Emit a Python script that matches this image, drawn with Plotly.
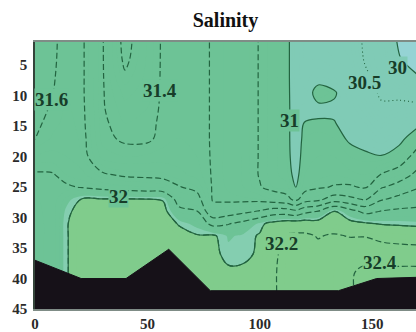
import numpy as np
import plotly.graph_objects as go

# Section geometry: distance along transect and sample depths
dist = [0, 8, 14, 21, 30, 40, 50, 57, 64, 72, 79, 86, 92, 100, 106, 112,
        116, 120, 126, 133, 140, 147, 154, 162, 170]
depth = [0, 4, 7, 9.5, 12, 14.5, 17, 20, 23, 25, 27, 29, 31, 33, 36, 39, 42, 45]

# Salinity profiles, one per distance column (surface -> bottom)
profiles = [
    [31.55, 31.55, 31.56, 31.57, 31.57, 31.58, 31.595, 31.70, 31.82, 31.85, 31.86, 31.87, 31.88, 31.88, 31.88, 31.88, 31.88, 31.88],
    [31.58, 31.585, 31.59, 31.598, 31.61, 31.63, 31.66, 31.72, 31.81, 31.82, 31.82, 31.82, 31.82, 31.82, 31.82, 31.82, 31.82, 31.82],
    [31.64, 31.64, 31.65, 31.65, 31.66, 31.67, 31.68, 31.70, 31.75, 31.82, 31.92, 31.97, 31.99, 31.99, 31.99, 31.99, 31.99, 31.99],
    [31.62, 31.62, 31.62, 31.62, 31.625, 31.63, 31.64, 31.65, 31.72, 31.79, 32.01, 32.06, 32.08, 32.08, 32.08, 32.08, 32.08, 32.08],
    [31.41, 31.41, 31.41, 31.41, 31.41, 31.42, 31.43, 31.48, 31.62, 31.75, 32.01, 32.07, 32.10, 32.10, 32.10, 32.10, 32.10, 32.10],
    [31.15, 31.17, 31.22, 31.28, 31.32, 31.35, 31.38, 31.45, 31.58, 31.72, 32.01, 32.08, 32.10, 32.10, 32.10, 32.10, 32.10, 32.10],
    [31.30, 31.31, 31.32, 31.33, 31.35, 31.36, 31.38, 31.46, 31.57, 31.70, 32.005, 32.07, 32.10, 32.10, 32.10, 32.10, 32.10, 32.10],
    [31.42, 31.42, 31.42, 31.42, 31.42, 31.43, 31.43, 31.47, 31.56, 31.68, 31.99, 32.05, 32.07, 32.08, 32.08, 32.08, 32.08, 32.08],
    [31.45, 31.45, 31.45, 31.45, 31.45, 31.45, 31.45, 31.47, 31.52, 31.61, 31.72, 31.85, 31.99, 32.05, 32.06, 32.06, 32.06, 32.06],
    [31.44, 31.44, 31.44, 31.44, 31.44, 31.44, 31.44, 31.45, 31.48, 31.55, 31.67, 31.81, 31.92, 32.01, 32.05, 32.06, 32.06, 32.06],
    [31.39, 31.39, 31.39, 31.39, 31.39, 31.39, 31.39, 31.39, 31.39, 31.39, 31.39, 31.45, 31.75, 32.02, 32.03, 32.05, 32.05, 32.05],
    [31.33, 31.33, 31.33, 31.33, 31.33, 31.33, 31.33, 31.33, 31.33, 31.34, 31.37, 31.50, 31.79, 31.94, 31.97, 32.02, 32.06, 32.06],
    [31.30, 31.30, 31.30, 31.30, 31.30, 31.30, 31.30, 31.30, 31.30, 31.31, 31.36, 31.55, 31.85, 31.96, 31.975, 32.02, 32.06, 32.06],
    [31.19, 31.19, 31.19, 31.19, 31.19, 31.19, 31.19, 31.19, 31.19, 31.21, 31.35, 31.62, 31.97, 32.01, 32.015, 32.05, 32.08, 32.10],
    [31.12, 31.12, 31.12, 31.12, 31.12, 31.12, 31.12, 31.12, 31.12, 31.15, 31.30, 31.70, 32.05, 32.15, 32.17, 32.18, 32.18, 32.18],
    [31.05, 31.05, 31.05, 31.05, 31.05, 31.05, 31.05, 31.05, 31.07, 31.12, 31.25, 31.70, 32.10, 32.22, 32.25, 32.26, 32.26, 32.26],
    [30.88, 30.88, 30.88, 30.89, 30.90, 30.90, 30.90, 30.92, 30.95, 30.99, 31.15, 31.65, 32.10, 32.23, 32.26, 32.27, 32.27, 32.27],
    [30.80, 30.80, 30.82, 30.86, 30.92, 31.01, 31.05, 31.07, 31.10, 31.14, 31.30, 31.75, 32.10, 32.23, 32.27, 32.28, 32.28, 32.28],
    [30.75, 30.80, 30.90, 31.10, 30.95, 31.02, 31.07, 31.10, 31.13, 31.18, 31.35, 31.81, 32.08, 32.19, 32.25, 32.26, 32.26, 32.26],
    [30.70, 30.75, 30.85, 31.03, 30.96, 31.01, 31.05, 31.10, 31.15, 31.21, 31.50, 32.02, 32.10, 32.22, 32.28, 32.30, 32.30, 32.30],
    [30.65, 30.70, 30.78, 30.85, 30.90, 30.93, 30.98, 31.05, 31.12, 31.22, 31.45, 31.88, 32.05, 32.19, 32.32, 32.38, 32.38, 32.38],
    [30.45, 30.47, 30.55, 30.65, 30.75, 30.85, 30.93, 31.03, 31.10, 31.18, 31.38, 31.75, 32.02, 32.19, 32.34, 32.44, 32.46, 32.46],
    [30.30, 30.35, 30.40, 30.45, 30.55, 30.70, 30.85, 31.01, 31.21, 31.38, 31.58, 31.81, 31.99, 32.15, 32.30, 32.44, 32.46, 32.46],
    [29.93, 30.02, 30.20, 30.40, 30.60, 30.80, 30.95, 31.08, 31.30, 31.48, 31.66, 31.84, 31.98, 32.12, 32.30, 32.45, 32.47, 32.47],
    [29.80, 29.85, 30.03, 30.30, 30.60, 30.95, 31.10, 31.28, 31.45, 31.58, 31.72, 31.84, 31.97, 32.10, 32.30, 32.45, 32.48, 32.48],
]
salinity = np.array(profiles).T  # rows = depth, columns = distance

# Sea floor
bottom_x = [0, 20.5, 40.5, 59.5, 78, 135, 152, 170]
bottom_depth = [37, 40, 40, 35.2, 42, 42, 40, 39.8]

# CTD station positions
stations = [0, 19, 39, 58, 77.5, 95.5, 114, 133, 153]

# Contour labels: (text, distance, depth, background)
labels = [
    ("31.6", 7.5, 10.6, "#6dc396"),
    ("31.4", 55.8, 9.1, "#6dc396"),
    ("31", 113.0, 14.0, "#6dc396"),
    ("30.5", 146.4, 7.8, "#80cbb6"),
    ("30", 161.2, 5.4, "#80cbb6"),
    ("32", 37.0, 26.6, "#6dc396"),
    ("32.2", 109.8, 34.2, "#80cc8c"),
    ("32.4", 153.6, 37.3, "#80cc8c"),
]

# Filled bands: fine level spacing, colours stepped at 30, 31, 31.95 and 32
fill_start, fill_end, fill_step = 30.0, 32.5, 0.05
lo, hi = fill_start - fill_step / 2, fill_end + fill_step / 2


def pos(v):
    return (v - lo) / (hi - lo)


c_blue, c_teal, c_mid, c_halo, c_deep = "#95d3d4", "#80cbb6", "#6dc396", "#84ceb0", "#80cc8c"
colorscale = [
    [0.0, c_blue], [pos(30.0), c_blue],
    [pos(30.0), c_teal], [pos(31.0), c_teal],
    [pos(31.0), c_mid], [pos(31.95), c_mid],
    [pos(31.95), c_halo], [pos(32.0), c_halo],
    [pos(32.0), c_deep], [1.0, c_deep],
]

line_col = "#236440"
fig = go.Figure()

fig.add_trace(go.Contour(
    x=dist, y=depth, z=salinity,
    colorscale=colorscale, showscale=False, hoverinfo="skip",
    contours=dict(coloring="fill", start=fill_start, end=fill_end, size=fill_step),
    line=dict(width=0),
))
fig.add_trace(go.Contour(
    x=dist, y=depth, z=salinity, showscale=False, hoverinfo="skip",
    contours=dict(coloring="none", start=30.5, end=30.5, size=1),
    line=dict(color=line_col, width=1.1, dash="1px,3px"),
))
fig.add_trace(go.Contour(
    x=dist, y=depth, z=salinity, showscale=False, hoverinfo="skip",
    contours=dict(coloring="none", start=31.2, end=32.4, size=0.2),
    line=dict(color=line_col, width=1.2, dash="6px,3px"),
))
fig.add_trace(go.Contour(
    x=dist, y=depth, z=salinity, showscale=False, hoverinfo="skip",
    contours=dict(coloring="none", start=30.0, end=32.0, size=1.0),
    line=dict(color=line_col, width=1.2),
))

# Sea floor polygon, closed along the bottom of the section
fig.add_trace(go.Scatter(
    x=bottom_x + [bottom_x[-1], bottom_x[0]],
    y=bottom_depth + [45, 45],
    fill="toself", fillcolor="#161118", mode="lines",
    line=dict(color="#161118", width=1), hoverinfo="skip", showlegend=False,
))

# Station markers just above the surface
fig.add_trace(go.Scatter(
    x=stations, y=[-0.3] * len(stations), mode="markers",
    marker=dict(size=4, color="#151515"), cliponaxis=False,
    hoverinfo="skip", showlegend=False,
))

for text, lx, ly, bg in labels:
    fig.add_annotation(
        x=lx, y=ly, text=text, showarrow=False, bgcolor=bg, borderpad=0,
        font=dict(family="Liberation Serif", size=19, color="#173d29", weight="bold"),
    )

tick_font = dict(family="Liberation Serif", size=15, color="#2a2a2a", weight="bold")
fig.update_layout(
    width=416, height=332,
    margin=dict(l=35, r=0, t=42, b=23),
    paper_bgcolor="white", plot_bgcolor="white",
    showlegend=False,
    title=dict(
        text="Salinity", x=0.5, xref="paper", y=1 - 20 / 332, yref="container",
        xanchor="center", yanchor="middle",
        font=dict(family="Liberation Serif", size=20, color="#111", weight="bold"),
    ),
    xaxis=dict(
        range=[0, 169.5], tickvals=[0, 50, 100, 150], showgrid=False, zeroline=False,
        showline=True, mirror=True, linecolor="#7f8c86", linewidth=2,
        ticks="", tickfont=tick_font,
    ),
    yaxis=dict(
        range=[45, 1.2], tickvals=[5, 10, 15, 20, 25, 30, 35, 40, 45], showgrid=False,
        zeroline=False, showline=True, linecolor="#34443a", linewidth=1.5,
        ticks="", tickfont=tick_font, ticklabelstandoff=3,
    ),
)

fig.write_html("out.html")
